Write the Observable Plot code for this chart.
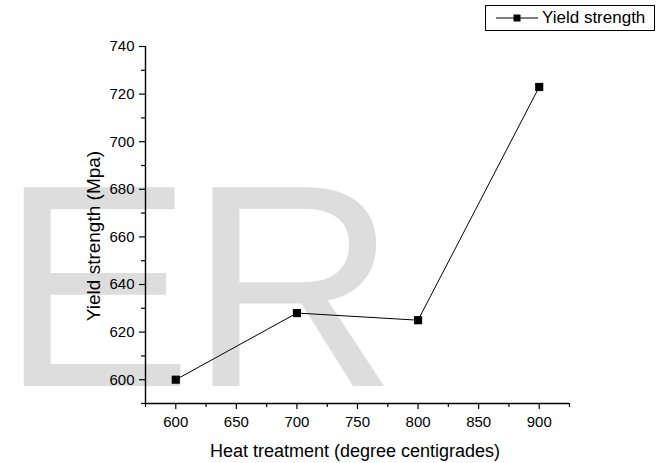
<!DOCTYPE html>
<html>
<head>
<meta charset="utf-8">
<script src="https://cdn.jsdelivr.net/npm/d3@7"></script>
<script src="https://cdn.jsdelivr.net/npm/@observablehq/plot@0.6"></script>
<style>
  html, body { margin: 0; padding: 0; background: #fff; }
  body { font-family: "Liberation Sans", Arial, sans-serif; }
  #wrap { position: relative; width: 665px; height: 463px; overflow: hidden; }
  #bg { position: absolute; left: 0; top: 0; }
  #chart { position: absolute; left: 0; top: 0; }
  #legend {
    position: absolute; left: 485px; top: 5px; width: 168px; height: 24px;
    border: 1px solid #000; background: #fff; display: flex; align-items: center;
    font-size: 17px; color: #000;
  }
  #legend svg { margin-left: 10px; margin-right: 4px; }
</style>
</head>
<body>
<div id="wrap">
  <svg id="bg" width="665" height="463">
    <text id="wm" x="0" y="386" font-family="Liberation Sans, Arial, sans-serif" font-size="289" fill="#dddddd" letter-spacing="-4">ER</text>
    <text x="355" y="457" text-anchor="middle" font-family="Liberation Sans, Arial, sans-serif" font-size="18" fill="#000">Heat treatment (degree centigrades)</text>
    <text transform="translate(100,236) rotate(-90)" text-anchor="middle" font-family="Liberation Sans, Arial, sans-serif" font-size="19" fill="#000">Yield strength (Mpa)</text>
  </svg>
  <div id="chart"></div>
  <div id="legend">
    <svg width="42" height="12"><line x1="0" y1="6" x2="42" y2="6" stroke="#000" stroke-width="1"/><rect x="17.5" y="2.5" width="7" height="7" fill="#000"/></svg>
    <span>Yield strength</span>
  </div>
</div>
<script>
// ---- data ----
const temperatures = [600, 700, 800, 900];
const yieldStrength = [600, 628, 625, 723];
const seriesName = "Yield strength";
const xTicks = [600, 650, 700, 750, 800, 850, 900];
const xMinorTicks = [575, 625, 675, 725, 775, 825, 875, 925];
const yTicks = [600, 620, 640, 660, 680, 700, 720, 740];
const yMinorTicks = [590, 610, 630, 650, 670, 690, 710, 730];
const xDomain = [575, 925];
const yDomain = [590, 740];

const data = temperatures.map((t, i) => ({t, v: yieldStrength[i]}));

const plot = Plot.plot({
  width: 665,
  height: 463,
  marginLeft: 145,
  marginRight: 96,
  marginTop: 46,
  marginBottom: 60,
  style: {background: "transparent", fontFamily: "Liberation Sans, Arial, sans-serif", color: "#000"},
  x: {domain: xDomain, label: null},
  y: {domain: yDomain, label: null},
  marks: [
    Plot.axisX({ticks: xTicks, tickSize: 6, tickPadding: 7, fontSize: 15, label: null, strokeWidth: 1.2}),
    Plot.axisX({ticks: xMinorTicks, tickSize: 4, text: null, label: null, strokeWidth: 1.2}),
    Plot.axisY({ticks: yTicks, tickSize: 6, tickPadding: 5, fontSize: 15, label: null, strokeWidth: 1.2}),
    Plot.axisY({ticks: yMinorTicks, tickSize: 4, text: null, label: null, strokeWidth: 1.2}),
    Plot.ruleX([xDomain[0]], {stroke: "#000", strokeWidth: 1.4}),
    Plot.ruleY([yDomain[0]], {stroke: "#000", strokeWidth: 1.4}),
    Plot.line(data, {x: "t", y: "v", stroke: "#000", strokeWidth: 1}),
    Plot.dot(data, {x: "t", y: "v", symbol: "square", r: 4.6, fill: "#000", stroke: "none", title: d => `${seriesName}: ${d.v}`})
  ]
});
document.getElementById("chart").appendChild(plot);
</script>
</body>
</html>
